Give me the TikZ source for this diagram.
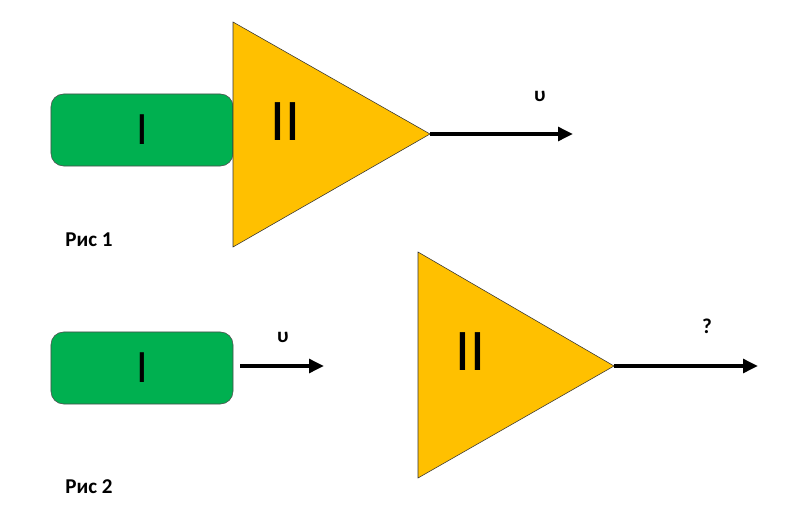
\documentclass[tikz,border=0pt]{standalone}
\usepackage{fontspec}
\setmainfont{Carlito}
\usetikzlibrary{arrows.meta}

\begin{document}
\begin{tikzpicture}[x=0.025cm,y=-0.025cm,
	block/.style={draw=black!70,thin,rounded corners=9pt,minimum width=4.55cm,minimum height=1.8cm,font=\fontsize{33}{33}\selectfont},
	amp/.style={draw=black!80,thin,fill=amber},
	sig/.style={line width=3.1pt,-{Triangle[length=10.5pt,width=9.5pt]}},
	lbl/.style={font=\bfseries\fontsize{15}{15}\selectfont}]
	\definecolor{amber}{HTML}{FFC000}
	\definecolor{grn}{HTML}{00B050}
	\useasboundingbox (0,0) rectangle (798,513);

	% Рис 1
	\node[block,fill=grn] (b1) at (142,130) {I};
	\coordinate (t1a) at (233,22);
	\coordinate (t1b) at (233,247);
	\coordinate (t1c) at (430,134);
	\draw[amp] (t1a) -- (t1c) -- (t1b) -- cycle;
	\node[font=\fontsize{42}{42}\selectfont] (a1) at (285,122) {II};
	\coordinate (o1) at (573,134);
	\draw[sig] (t1c) -- (o1);
	\node[lbl] (u1) at (540,96) {υ};
	\node[lbl] (r1) at (89,240) {Рис 1};

	% Рис 2
	\node[block,fill=grn] (b2) at (142,368) {I};
	\coordinate (s2) at (240,366);
	\coordinate (o2) at (324,366);
	\draw[sig] (s2) -- (o2);
	\node[lbl] (u2) at (283,337) {υ};
	\coordinate (t2a) at (418,252);
	\coordinate (t2b) at (418,478);
	\coordinate (t2c) at (614,366);
	\draw[amp] (t2a) -- (t2c) -- (t2b) -- cycle;
	\node[font=\fontsize{42}{42}\selectfont] (a2) at (470,352) {II};
	\coordinate (o3) at (758,366);
	\draw[sig] (t2c) -- (o3);
	\node[lbl] (q2) at (707,326) {?};
	\node[lbl] (r2) at (89,487) {Рис 2};
\end{tikzpicture}
\end{document}
